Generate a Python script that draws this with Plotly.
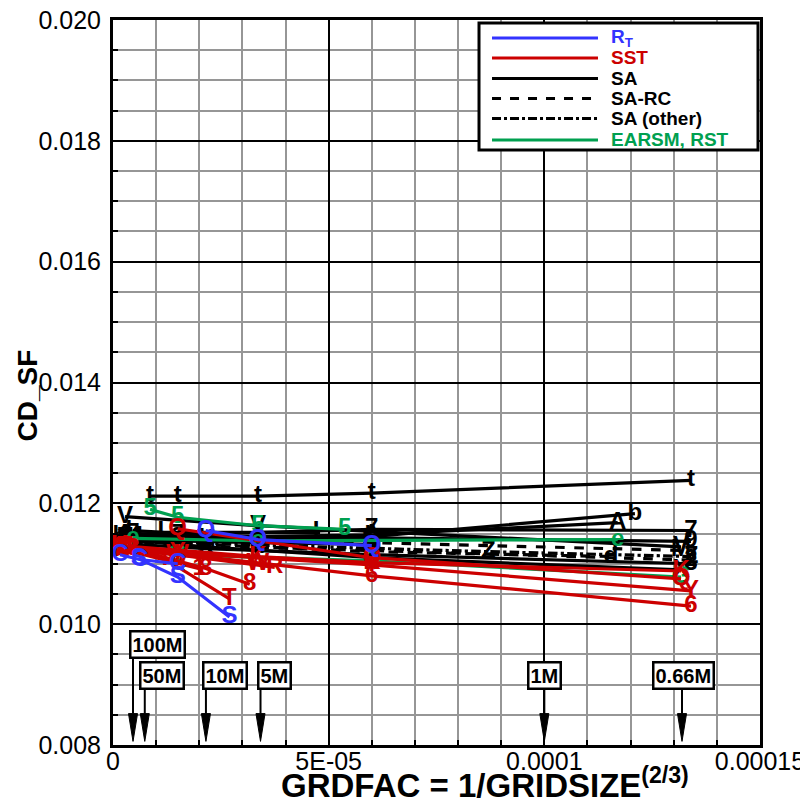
import plotly.graph_objects as go

BLUE = "rgb(51,51,255)"
RED = "rgb(204,0,0)"
GREEN = "rgb(0,160,80)"
BLACK = "black"

# ---- data: (marker char, family, dash, x values, y values) ----
t_x = [8.6e-6, 1.5e-5, 3.36e-5, 6.0e-5, 1.34e-4]
t_y = [0.01212, 0.01212, 0.01212, 0.01217, 0.01238]
b_x = [1.6e-6, 2.15e-5, 6.0e-5, 1.21e-4]
b_y = [0.01145, 0.01140, 0.01145, 0.01183]
A_x = [2.8e-6, 3.36e-5, 6.0e-5, 1.17e-4]
A_y = [0.01148, 0.01145, 0.01148, 0.01168]
s7_x = [4.6e-6, 1.5e-5, 6.0e-5, 1.34e-4]
s7_y = [0.01150, 0.01148, 0.01157, 0.01155]
s9_x = [2.8e-6, 1.5e-5, 6.0e-5, 1.34e-4]
s9_y = [0.01145, 0.01143, 0.01143, 0.01137]
V_x = [2.8e-6, 3.36e-5, 1.317e-4]
V_y = [0.01178, 0.01163, 0.01128]
L_x = [4.6e-6, 1.2e-5, 4.8e-5]
L_y = [0.01155, 0.01152, 0.01152]
N_x = [2.8e-6, 1.5e-5, 3.36e-5, 6.0e-5]
N_y = [0.01142, 0.01138, 0.01135, 0.01132]
d_x = [1.6e-6, 3.36e-5, 6.0e-5, 1.155e-4]
d_y = [0.01138, 0.01128, 0.01120, 0.01112]
s2_x = [2.8e-6, 1.5e-5, 6.0e-5, 1.34e-4]
s2_y = [0.01135, 0.01130, 0.01122, 0.01106]
M_x = [4.6e-6, 2.15e-5, 6.0e-5, 1.317e-4]
M_y = [0.01145, 0.01140, 0.01135, 0.01122]
s3_x = [4.6e-6, 2.15e-5, 6.0e-5, 1.34e-4]
s3_y = [0.01132, 0.01125, 0.01115, 0.01100]
Z_x = [7.4e-6, 3.36e-5, 8.7e-5, 1.34e-4]
Z_y = [0.01138, 0.01131, 0.01120, 0.01112]
X_x = [2.8e-6, 2.15e-5, 6.0e-5, 1.317e-4]
X_y = [0.01140, 0.01128, 0.01110, 0.01090]
g5_x = [8.6e-6, 1.5e-5, 3.36e-5, 5.37e-5]
g5_y = [0.01190, 0.01177, 0.01163, 0.01157]
gG_x = [1.6e-6, 1.5e-5, 6.0e-5, 1.317e-4]
gG_y = [0.01125, 0.01115, 0.01105, 0.01078]
ge_x = [4.6e-6, 3.36e-5, 1.17e-4]
ge_y = [0.01142, 0.01138, 0.01140]
r6_x = [1.6e-6, 6.0e-5, 1.34e-4]
r6_y = [0.01128, 0.01080, 0.01030]
rY_x = [2.8e-6, 1.5e-5, 6.0e-5, 1.34e-4]
rY_y = [0.01128, 0.01118, 0.01098, 0.01055]
rK_x = [1.6e-6, 3.36e-5, 6.0e-5, 1.317e-4]
rK_y = [0.01130, 0.01112, 0.01102, 0.01088]
rT_x = [2.8e-6, 1.2e-5, 2.7e-5]
rT_y = [0.01128, 0.01108, 0.01042]
r8_x = [4.6e-6, 2.15e-5, 3.17e-5]
r8_y = [0.01125, 0.01092, 0.01066]
r1_x = [1.6e-6, 2.0e-5]
r1_y = [0.01125, 0.01092]
rR_x = [3.6e-6, 3.75e-5]
rR_y = [0.01125, 0.01094]
rW_x = [2.0e-6, 1.5e-5, 3.36e-5]
rW_y = [0.01123, 0.01115, 0.01100]
rQ_x = [1.5e-5, 6.0e-5, 1.317e-4]
rQ_y = [0.01158, 0.01110, 0.01075]
bS_x = [6.0e-6, 1.5e-5, 2.7e-5]
bS_y = [0.01108, 0.01078, 0.01012]
bC_x = [1.6e-6, 6.2e-6, 1.5e-5]
bC_y = [0.01115, 0.01107, 0.01100]
bQ_x = [2.15e-5, 3.36e-5, 6.0e-5]
bQ_y = [0.01155, 0.01140, 0.01130]

series = [
    ("t", BLACK, "solid", t_x, t_y),
    ("b", BLACK, "solid", b_x, b_y),
    ("A", BLACK, "solid", A_x, A_y),
    ("7", BLACK, "solid", s7_x, s7_y),
    ("9", BLACK, "solid", s9_x, s9_y),
    ("V", BLACK, "solid", V_x, V_y),
    ("L", BLACK, "solid", L_x, L_y),
    ("N", BLACK, "solid", N_x, N_y),
    ("d", BLACK, "dash", d_x, d_y),
    ("2", BLACK, "dash", s2_x, s2_y),
    ("M", BLACK, "dash", M_x, M_y),
    ("3", BLACK, "solid", s3_x, s3_y),
    ("Z", BLACK, "dashdot", Z_x, Z_y),
    ("X", BLACK, "solid", X_x, X_y),
    ("5", GREEN, "solid", g5_x, g5_y),
    ("G", GREEN, "solid", gG_x, gG_y),
    ("e", GREEN, "solid", ge_x, ge_y),
    ("6", RED, "solid", r6_x, r6_y),
    ("Y", RED, "solid", rY_x, rY_y),
    ("K", RED, "solid", rK_x, rK_y),
    ("T", RED, "solid", rT_x, rT_y),
    ("8", RED, "solid", r8_x, r8_y),
    ("1", RED, "solid", r1_x, r1_y),
    ("R", RED, "solid", rR_x, rR_y),
    ("W", RED, "solid", rW_x, rW_y),
    ("Q", RED, "solid", rQ_x, rQ_y),
    ("S", BLUE, "solid", bS_x, bS_y),
    ("C", BLUE, "solid", bC_x, bC_y),
    ("Q", BLUE, "solid", bQ_x, bQ_y),
]

legend_names = ["R<sub>T</sub>", "SST", "SA", "SA-RC", "SA (other)", "EARSM, RST"]
legend_colors = [BLUE, RED, BLACK, BLACK, BLACK, GREEN]
legend_dashes = ["solid", "solid", "solid", "dash", "dashdot", "solid"]

grid_labels = ["100M", "50M", "10M", "5M", "1M", "0.66M"]
grid_sizes = [100e6, 50e6, 10e6, 5e6, 1e6, 0.66e6]

FONT = "Liberation Sans"

fig = go.Figure()
for ch, col, dash, xs, ys in series:
    fig.add_trace(go.Scatter(
        x=xs, y=ys, mode="lines+text", text=[ch] * len(xs),
        textposition="middle center",
        textfont=dict(family=FONT, size=24, color=col, weight="bold"),
        line=dict(color=col, width=3.2, dash=dash),
        showlegend=False, hoverinfo="skip"))

annotations = []
shapes = []

# ---- legend drawn in the plot's domain coordinates ----
shapes.append(dict(type="rect", xref="x domain", yref="y domain",
                   x0=0.5657, x1=0.9969, y0=0.8207, y1=0.9959,
                   fillcolor="white", line=dict(color="black", width=3),
                   layer="above"))
row_y = [0.9752, 0.9476, 0.9193, 0.8917, 0.8641, 0.8345]
for nm, col, dash, ry in zip(legend_names, legend_colors, legend_dashes, row_y):
    shapes.append(dict(type="line", xref="x domain", yref="y domain",
                       x0=0.5858, x1=0.7496, y0=ry, y1=ry,
                       line=dict(color=col, width=3, dash=dash), layer="above"))
    annotations.append(dict(xref="x domain", yref="y domain", x=0.7665, y=ry,
                            xanchor="left", yanchor="middle", showarrow=False,
                            text="<b>%s</b>" % nm,
                            font=dict(family=FONT, size=19, color=col)))

# ---- grid-size annotations ----
box_y = [0.00967, 0.009157, 0.009157, 0.009157, 0.009157, 0.009157]
box_anchor = ["left", "left", "left", "left", "center", "center"]
box_shift = [-4, -6, -4, -4, 0, 1]
for lab, n, by, anc, sh in zip(grid_labels, grid_sizes, box_y, box_anchor, box_shift):
    gx = 1.0 / n ** (2.0 / 3.0)
    annotations.append(dict(
        x=gx, y=by, xref="x", yref="y", text="<b>%s</b>" % lab,
        showarrow=False, xanchor=anc, xshift=sh,
        font=dict(family=FONT, size=20, color="black"),
        bgcolor="white", bordercolor="black", borderwidth=2.5, borderpad=1))
    tail = by - 0.00021
    base = 0.00806 + 0.00046
    shapes.append(dict(type="line", xref="x", yref="y", x0=gx, x1=gx,
                       y0=tail, y1=base, line=dict(color="black", width=2),
                       layer="above"))
    hw = 1.05e-6
    shapes.append(dict(type="path", xref="x", yref="y",
                       path="M %g,%g L %g,%g L %g,%g Z" % (gx - hw, base, gx + hw, base, gx, 0.00806),
                       fillcolor="black", line=dict(color="black", width=1),
                       layer="above"))

# ---- axis titles ----
annotations.append(dict(xref="paper", yref="paper", x=0.575, y=-0.052,
                        xanchor="center", yanchor="middle", showarrow=False,
                        text="<b>GRDFAC = 1/GRIDSIZE<sup>(2/3)</sup></b>",
                        font=dict(family=FONT, size=33, color="black")))
annotations.append(dict(xref="paper", yref="paper", x=-0.1314, y=0.482,
                        xanchor="center", yanchor="middle", showarrow=False,
                        textangle=-90, text="<b>CD_SF</b>",
                        font=dict(family=FONT, size=28, color="black")))

# the page body has an 8px margin, so the figure is 8px smaller each way
fig.update_layout(
    width=800, height=796,
    margin=dict(l=105, r=48, t=12, b=59),
    plot_bgcolor="white", paper_bgcolor="white",
    font=dict(family=FONT, color="black"),
    showlegend=False,
    annotations=annotations, shapes=shapes,
    xaxis=dict(range=[0, 0.00015], tickvals=[0, 5e-5, 1e-4, 1.5e-4],
               ticktext=["0", "5E-05", "0.0001", "0.00015"],
               automargin=False, ticklabeloverflow="allow",
               showgrid=True, gridcolor="black", gridwidth=1.5,
               minor=dict(dtick=1e-5, showgrid=True, gridcolor="rgb(150,150,150)",
                          gridwidth=1.5, ticks="inside", ticklen=5, tickcolor="black"),
               ticks="inside", ticklen=10, tickwidth=2, tickcolor="black",
               showline=True, linecolor="black", linewidth=3, mirror=True,
               zeroline=False, tickfont=dict(size=25, family=FONT),
               ticklabelstandoff=-8),
    yaxis=dict(range=[0.008, 0.020], dtick=0.002, tickformat=".3f",
               automargin=False, ticklabeloverflow="allow",
               showgrid=True, gridcolor="black", gridwidth=1.5,
               minor=dict(dtick=0.0005, showgrid=True, gridcolor="rgb(150,150,150)",
                          gridwidth=1.5, ticks="inside", ticklen=5, tickcolor="black"),
               ticks="inside", ticklen=10, tickwidth=2, tickcolor="black",
               showline=True, linecolor="black", linewidth=3, mirror=True,
               zeroline=False, tickfont=dict(size=25, family=FONT),
               ticklabelstandoff=4),
)

fig.write_html("out.html")
